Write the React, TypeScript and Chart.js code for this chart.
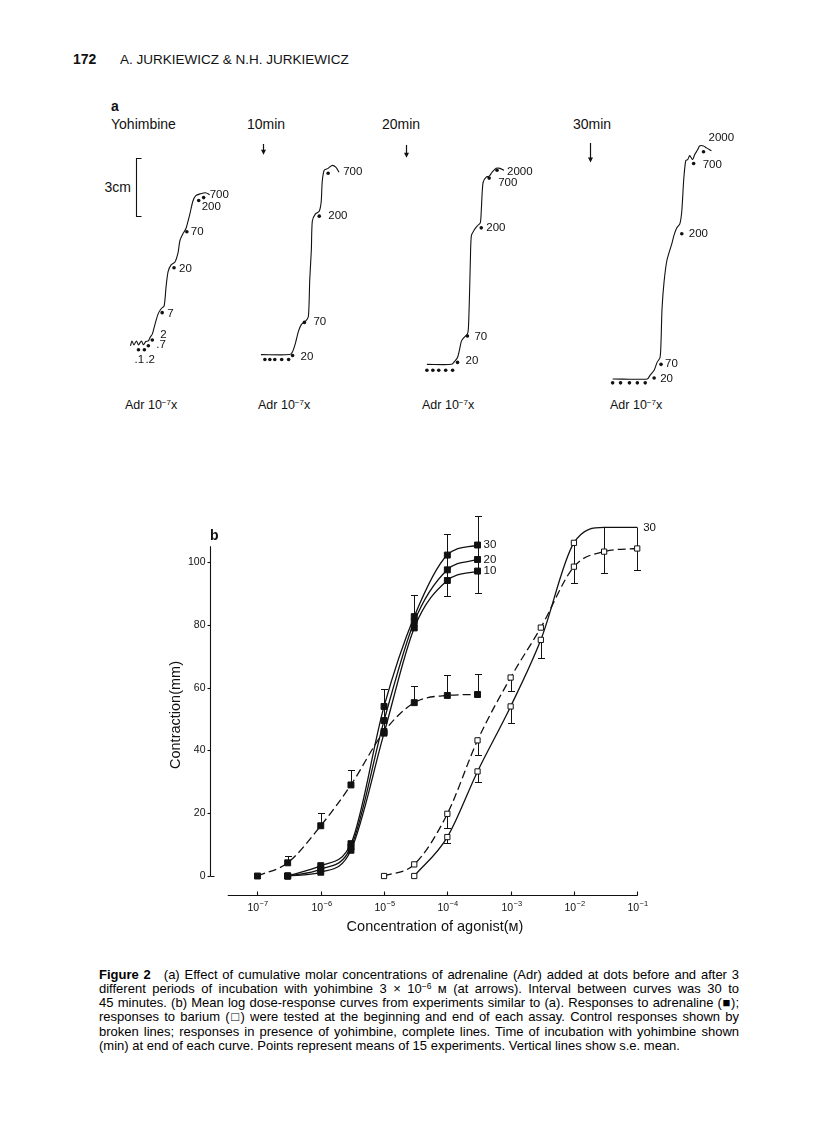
import React, { useEffect, useRef } from "react";
import { Chart, registerables } from "chart.js";

Chart.register(...registerables);

const FONT = "'Liberation Sans', Arial, Helvetica, sans-serif";
const INK = "#111";

// ================= Part b : dose-response curves =================
// concentrations (M) and mean contraction (mm)
const adrConcControl = [1e-7, 3e-7, 1e-6, 3e-6, 1e-5, 3e-5, 1e-4, 3e-4];
const adrControl = [0, 4.2, 16.0, 29.0, 46.0, 55.2, 57.5, 57.8];

const adrConcYoh = [3e-7, 1e-6, 3e-6, 1e-5, 3e-5, 1e-4, 3e-4];
const adrYoh10 = [0, 1.2, 8.2, 45.5, 79.0, 94.1, 97.1];
const adrYoh20 = [0, 2.2, 9.2, 49.5, 81.0, 97.5, 100.8];
const adrYoh30 = [0, 3.3, 10.3, 54.0, 82.6, 102.2, 105.4];

const baConcControl = [1e-5, 3e-5, 1e-4, 3e-4, 1e-3, 3e-3, 1e-2, 3e-2, 1e-1];
const baControl = [0, 3.7, 19.8, 43.2, 63.2, 79.1, 98.5, 103.3, 104.3];

const baConcYoh = [3e-5, 1e-4, 3e-4, 1e-3, 3e-3, 1e-2, 3e-2, 1e-1];
const baYoh30 = [0, 12.4, 33.3, 54.0, 75.2, 106.1, 111.0, 111.0];

// s.e. mean bars: drawn from a mean value to the capped tip
const errConc = [3e-7, 1e-6, 3e-6, 3e-5, 1e-4, 3e-4, 1e-5, 3e-5, 1e-4, 1e-4, 3e-4, 3e-4, 1e-4, 3e-4, 1e-3, 1e-2, 3e-2, 1e-1, 1e-4, 3e-4, 1e-3, 3e-3];
const errFrom = [4.2, 16.0, 29.0, 55.2, 57.5, 57.8, 45.5, 79.0, 94.1, 94.1, 97.1, 97.1, 19.8, 43.2, 63.2, 106.1, 111.0, 111.0, 12.4, 33.3, 54.0, 75.2];
const errTo = [6.4, 20.0, 33.7, 60.5, 64.0, 64.2, 59.5, 89.5, 108.8, 89.3, 114.6, 90.0, 15.3, 38.5, 59.0, 93.2, 96.6, 97.5, 10.6, 29.8, 48.7, 69.3];

const yTicks = [0, 20, 40, 60, 80, 100];
const yTickLabels = ["0", "20", "40", "60", "80", "100"];
const xTickExponents = [-7, -6, -5, -4, -3, -2, -1];
const xTickLabels = ["−7", "−6", "−5", "−4", "−3", "−2", "−1"];

const yAxisTitle = "Contraction(mm)";
const xAxisTitle = "Concentration of agonist(ᴍ)";

// ================= Part a : kymograph traces (mm of chart paper) =================
const traceControl = [
  [18.5, 36], [19.2, 38.5], [20.2, 36.5], [21.5, 38.5], [22.5, 36.5], [24, 38.5], [25, 36.5], [26.2, 38.2],
  [27.5, 38.5], [28.5, 40.5], [29.5, 42], [31, 47.5], [32.5, 52.5], [34, 55], [35.5, 56.5], [36.5, 66.5],
  [37.5, 74], [39, 77.5], [41, 79], [42.5, 83.5], [43.5, 90], [45, 93.5], [46.5, 96], [48.5, 103.5],
  [50, 110], [51.5, 113], [54, 114], [56.5, 114.5], [58.5, 113.5],
];
const trace10 = [
  [84.5, 31.5], [99, 31.5], [100.5, 33], [102, 37.5], [103.5, 43.5], [105, 47], [107, 48.5], [108.5, 51],
  [109.2, 70], [110, 85], [110.5, 100], [112, 103.5], [114, 105], [115, 110], [115.5, 120], [116.5, 126],
  [118.5, 127], [120.5, 128.5], [122.5, 127.5], [124, 125],
];
const trace20 = [
  [168.5, 26.5], [181, 26.5], [182.5, 28], [184, 30], [185, 34], [186, 38.5], [187.5, 40.5], [189, 42],
  [189.5, 45], [190, 60], [190.5, 80], [191, 92.5], [192.5, 95.5], [194, 97.5], [195.5, 99], [196, 105],
  [196.5, 115], [197, 120], [198.5, 122.5], [200, 123], [201.5, 125], [203.5, 127], [205.5, 127], [207.5, 126],
];
const trace30 = [
  [262.5, 19], [280, 19], [281.5, 21], [283.5, 23.5], [285, 27.5], [286.5, 30], [287, 38.5], [287.5, 55],
  [288.5, 68.5], [290, 80], [292.5, 88.5], [293.5, 92.5], [295, 96.5], [296.5, 98.5], [297.5, 105],
  [298.5, 121.5], [299.5, 131], [300.5, 131.5], [301.5, 133.5], [303, 131.5], [304, 134], [305.5, 136.5],
  [306.5, 138.5], [308.5, 138.5], [310, 137.5], [312.5, 136],
];

// dots marking each addition, with dose labels (Adr 10^-7 x)
const dotsControl = [[22.5, 34], [25.5, 34], [27.5, 36], [29.5, 39], [34.5, 53], [40.5, 76], [47, 94.5], [53, 110.5], [55.5, 112]];
const dosesControl = [".1", ".2", ".7", "2", "7", "20", "70", "200", "700"];
const dots10 = [[86.5, 29], [89, 29], [91.5, 29], [95, 29], [98.5, 29], [100.5, 31], [106.5, 48], [114, 102.5], [118.5, 124.5]];
const doses10 = ["", "", "", "", "", "20", "70", "200", "700"];
const dots20 = [[168.5, 23.5], [171.5, 23.5], [174.5, 23.5], [178, 23.5], [181.5, 23.5], [184, 27.5], [189, 41], [196, 96.5], [200, 122], [204, 126]];
const doses20 = ["", "", "", "", "", "20", "70", "200", "700", "2000"];
const dots30 = [[262.5, 17], [266.5, 17], [271, 17], [275, 17], [279, 17], [283.5, 19.5], [287, 26.5], [297.5, 93.5], [303.5, 129.5], [308.5, 135.5]];
const doses30 = ["", "", "", "", "", "20", "70", "200", "700", "2000"];

// label placement (px offsets from the dot) – style only
const offControl = [[-4, 10], [1, 10], [8, -1], [8, -5], [5, 1], [5, 1], [4, 0], [3, 6], [6, -3]];
const off10 = [[0, 0], [0, 0], [0, 0], [0, 0], [0, 0], [8, 1], [9, -1], [9, 0], [15, -1]];
const off20 = [[0, 0], [0, 0], [0, 0], [0, 0], [0, 0], [8, -2], [7, 1], [5, 0], [9, 5], [10, 2]];
const off30 = [[0, 0], [0, 0], [0, 0], [0, 0], [0, 0], [6, 1], [4, 0], [7, 0], [9, 1], [5, -14]];

// yohimbine addition arrows and the 3 cm calibration bar (mm)
const arrowX = [85.5, 158, 251];
const arrowTop = [139.5, 139, 140];
const arrowBottom = [134, 132.5, 130];
const scaleBarX = 21.5;
const scaleBarFrom = 102.5;
const scaleBarTo = 132.5;

const toXY = (arr: number[][]) => arr.map(([x, y]) => ({ x, y }));
const logPts = (conc: number[], vals: number[]) => conc.map((c, i) => ({ x: Math.log10(c), y: vals[i] }));

function buildChartB(): any {
  const dashed = [8, 4];
  const filled = {
    pointStyle: "rect", pointRadius: 4.2, pointBackgroundColor: INK, pointBorderColor: INK,
    pointBorderWidth: 1, pointHoverRadius: 4.2,
  };
  const open = {
    pointStyle: "rect", pointRadius: 3.7, pointBackgroundColor: "#fff", pointBorderColor: INK,
    pointBorderWidth: 1, pointHoverRadius: 3.7,
  };
  const line = { borderColor: INK, borderWidth: 1.3, cubicInterpolationMode: "monotone", fill: false, clip: false };
  const datasets: any[] = [
    { label: "Adr control", data: logPts(adrConcControl, adrControl), ...line, ...filled, borderDash: dashed },
    { label: "Adr 10 min", endLabel: "10", data: logPts(adrConcYoh, adrYoh10), ...line, ...filled },
    { label: "Adr 20 min", endLabel: "20", data: logPts(adrConcYoh, adrYoh20), ...line, ...filled },
    { label: "Adr 30 min", endLabel: "30", data: logPts(adrConcYoh, adrYoh30), ...line, ...filled },
    { label: "Ba control", data: logPts(baConcControl, baControl), ...line, ...open, borderDash: dashed },
    { label: "Ba 30 min", endLabel: "30", data: logPts(baConcYoh, baYoh30), ...line, ...open },
  ];

  const plugin = {
    id: "figB",
    beforeDatasetsDraw(chart: any) {
      const { ctx } = chart;
      const xs = chart.scales.x, ys = chart.scales.y;
      ctx.save();
      ctx.strokeStyle = INK;
      ctx.lineWidth = 1;
      for (let i = 0; i < errConc.length; i++) {
        const px = Math.round(xs.getPixelForValue(Math.log10(errConc[i]))) + 0.5;
        const p1 = ys.getPixelForValue(errFrom[i]);
        const p2 = Math.round(ys.getPixelForValue(errTo[i])) + 0.5;
        ctx.beginPath();
        ctx.moveTo(px, p1);
        ctx.lineTo(px, p2);
        ctx.moveTo(px - 3.5, p2);
        ctx.lineTo(px + 3.5, p2);
        ctx.stroke();
      }
      ctx.restore();
    },
    afterDatasetsDraw(chart: any) {
      const { ctx } = chart;
      ctx.save();
      ctx.fillStyle = INK;
      ctx.font = `11.5px ${FONT}`;
      ctx.textBaseline = "middle";
      ctx.textAlign = "left";
      chart.data.datasets.forEach((ds: any, di: number) => {
        if (!ds.endLabel) return;
        const meta = chart.getDatasetMeta(di);
        const last = meta.data[meta.data.length - 1];
        ctx.fillText(ds.endLabel, last.x + 6, last.y);
      });
      ctx.restore();
    },
    afterDraw(chart: any) {
      const { ctx } = chart;
      const xs = chart.scales.x, ys = chart.scales.y;
      ctx.save();
      ctx.strokeStyle = INK;
      ctx.fillStyle = INK;
      ctx.lineWidth = 1.1;
      // y axis
      const ax = Math.round(xs.getPixelForValue(-7.75)) + 0.5;
      const y0 = ys.getPixelForValue(0);
      ctx.beginPath();
      ctx.moveTo(ax, y0);
      ctx.lineTo(ax, ys.getPixelForValue(105));
      ctx.moveTo(ax, Math.round(y0) + 0.5);
      ctx.lineTo(ax + 4, Math.round(y0) + 0.5);
      ctx.stroke();
      ctx.font = `10.5px ${FONT}`;
      ctx.textAlign = "right";
      ctx.textBaseline = "middle";
      yTicks.forEach((v, i) => {
        const py = Math.round(ys.getPixelForValue(v)) + 0.5;
        ctx.beginPath();
        ctx.moveTo(ax - 3, py);
        ctx.lineTo(ax, py);
        ctx.stroke();
        ctx.fillText(yTickLabels[i], ax - 5, py);
      });
      // x axis (offset below the data)
      const xAxY = Math.round(ys.getPixelForValue(-6)) + 0.5;
      ctx.beginPath();
      ctx.moveTo(xs.getPixelForValue(-7.47), xAxY);
      ctx.lineTo(xs.getPixelForValue(-1) + 0.5, xAxY);
      ctx.stroke();
      xTickExponents.forEach((e, i) => {
        const px = Math.round(xs.getPixelForValue(e)) + 0.5;
        ctx.beginPath();
        ctx.moveTo(px, xAxY);
        ctx.lineTo(px, xAxY - 4);
        ctx.stroke();
        ctx.font = `10.5px ${FONT}`;
        const wBase = ctx.measureText("10").width;
        ctx.font = `7.5px ${FONT}`;
        const wExp = ctx.measureText(xTickLabels[i]).width;
        const left = px - (wBase + wExp) / 2;
        ctx.textAlign = "left";
        ctx.font = `10.5px ${FONT}`;
        ctx.fillText("10", left, xAxY + 13);
        ctx.font = `7.5px ${FONT}`;
        ctx.fillText(xTickLabels[i], left + wBase + 0.5, xAxY + 8.5);
      });
      // titles
      ctx.font = `14.5px ${FONT}`;
      ctx.textAlign = "center";
      ctx.textBaseline = "middle";
      ctx.fillText(xAxisTitle, 295, 427);
      ctx.save();
      ctx.translate(36, 215);
      ctx.rotate(-Math.PI / 2);
      ctx.fillText(yAxisTitle, 0, 0);
      ctx.restore();
      ctx.font = `bold 14px ${FONT}`;
      ctx.textAlign = "left";
      ctx.fillText("b", 70, 36);
      ctx.restore();
    },
  };

  return {
    type: "line",
    data: { datasets },
    options: {
      animation: false,
      responsive: false,
      devicePixelRatio: 1,
      layout: { padding: { left: 70, right: 40, top: 40, bottom: 40 } },
      plugins: { legend: { display: false }, tooltip: { enabled: false } },
      events: [],
      scales: {
        x: { type: "linear", min: -7.75, max: -0.64, display: false },
        y: { type: "linear", min: -7.64, max: 107, display: false },
      },
    },
    plugins: [plugin],
  };
}

function buildChartA(): any {
  const traceStyle = { borderColor: INK, borderWidth: 1.1, pointRadius: 0, tension: 0.25, fill: false, clip: false };
  const dotStyle = { showLine: false, pointRadius: 1.8, pointBackgroundColor: INK, pointBorderColor: INK, pointBorderWidth: 0, clip: false };
  const groups = [
    { trace: traceControl, dots: dotsControl, doses: dosesControl, off: offControl },
    { trace: trace10, dots: dots10, doses: doses10, off: off10 },
    { trace: trace20, dots: dots20, doses: doses20, off: off20 },
    { trace: trace30, dots: dots30, doses: doses30, off: off30 },
  ];
  const datasets: any[] = [];
  groups.forEach((g, gi) => {
    datasets.push({ label: `trace ${gi}`, data: toXY(g.trace), ...traceStyle });
    datasets.push({ label: `dots ${gi}`, data: toXY(g.dots), ...dotStyle, doses: g.doses, off: g.off });
  });

  const plugin = {
    id: "figA",
    afterDatasetsDraw(chart: any) {
      const { ctx } = chart;
      const xs = chart.scales.x, ys = chart.scales.y;
      ctx.save();
      ctx.fillStyle = INK;
      ctx.strokeStyle = INK;
      ctx.font = `11.5px ${FONT}`;
      ctx.textBaseline = "middle";
      ctx.textAlign = "left";
      chart.data.datasets.forEach((ds: any, di: number) => {
        if (!ds.doses) return;
        const meta = chart.getDatasetMeta(di);
        ds.doses.forEach((t: string, i: number) => {
          if (!t) return;
          const el = meta.data[i];
          ctx.fillText(t, el.x + ds.off[i][0], el.y + ds.off[i][1]);
        });
      });
      // arrows
      ctx.lineWidth = 1.2;
      arrowX.forEach((x, i) => {
        const px = Math.round(xs.getPixelForValue(x)) + 0.5;
        const pt = ys.getPixelForValue(arrowTop[i]);
        const pb = ys.getPixelForValue(arrowBottom[i]);
        ctx.beginPath();
        ctx.moveTo(px, pt);
        ctx.lineTo(px, pb - 4);
        ctx.stroke();
        ctx.beginPath();
        ctx.moveTo(px - 2.5, pb - 5);
        ctx.lineTo(px + 2.5, pb - 5);
        ctx.lineTo(px, pb);
        ctx.closePath();
        ctx.fill();
      });
      // 3 cm calibration bar
      const bx = Math.round(xs.getPixelForValue(scaleBarX)) + 0.5;
      const b1 = Math.round(ys.getPixelForValue(scaleBarFrom)) + 0.5;
      const b2 = Math.round(ys.getPixelForValue(scaleBarTo)) + 0.5;
      ctx.lineWidth = 1.1;
      ctx.beginPath();
      ctx.moveTo(bx + 5, b2);
      ctx.lineTo(bx, b2);
      ctx.lineTo(bx, b1);
      ctx.lineTo(bx + 5, b1);
      ctx.stroke();
      ctx.restore();
    },
  };

  return {
    type: "line",
    data: { datasets },
    options: {
      animation: false,
      responsive: false,
      devicePixelRatio: 1,
      layout: { padding: 0 },
      plugins: { legend: { display: false }, tooltip: { enabled: false } },
      events: [],
      scales: {
        x: { type: "linear", min: 0, max: 330, display: false },
        y: { type: "linear", min: 0, max: 160, display: false },
      },
    },
    plugins: [plugin],
  };
}

function ChartCanvas({ build, left, top, width, height }: any) {
  const ref = useRef<HTMLCanvasElement>(null);
  useEffect(() => {
    const chart = new Chart(ref.current as HTMLCanvasElement, build());
    return () => chart.destroy();
  }, []);
  return (
    <canvas
      ref={ref}
      width={width}
      height={height}
      style={{ position: "absolute", left, top, width, height, display: "block" }}
    />
  );
}

function Txt({ x, y, size, bold, right, children, style }: any) {
  const s: any = {
    position: "absolute",
    top: y - size * 0.55,
    fontFamily: FONT,
    fontSize: size,
    lineHeight: `${size}px`,
    fontWeight: bold ? "bold" : "normal",
    color: INK,
    whiteSpace: "nowrap",
    ...style,
  };
  if (right) s.right = 816 - x;
  else s.left = x;
  return <div style={s}>{children}</div>;
}

const Sup = ({ children, size }: any) => (
  <span style={{ fontSize: size, verticalAlign: "0.45em", lineHeight: 0 }}>{children}</span>
);

const captionLines = [
  null,
  <>different periods of incubation with yohimbine 3 × 10<Sup size={8.5}>−6</Sup> ᴍ (at arrows). Interval between curves was 30 to</>,
  <>45 minutes. (b) Mean log dose-response curves from experiments similar to (a). Responses to adrenaline (■);</>,
  <>responses to barium (□) were tested at the beginning and end of each assay. Control responses shown by</>,
  <>broken lines; responses in presence of yohimbine, complete lines. Time of incubation with yohimbine shown</>,
];

export default function App() {
  const capTop = [975, 989.3, 1003.3, 1017.3, 1031.7, 1045.7];
  const capSize = 13;
  const capStyle = (i: number, last: boolean): any => ({
    position: "absolute",
    left: 99,
    width: 640,
    top: capTop[i] - 7,
    fontFamily: FONT,
    fontSize: capSize,
    lineHeight: "14px",
    color: "#000",
    textAlign: last ? "left" : "justify",
    textAlignLast: last ? "left" : "justify",
    whiteSpace: "nowrap",
  });
  return (
    <div style={{ position: "absolute", left: 0, top: 0, width: 816, height: 1136, background: "#fff", overflow: "hidden" }}>
      {/* running head */}
      <Txt x={73} y={60} size={14} bold>172</Txt>
      <Txt x={120} y={60} size={13.5}>A. JURKIEWICZ &amp; N.H. JURKIEWICZ</Txt>

      {/* part a */}
      <Txt x={111} y={107} size={14} bold>a</Txt>
      <Txt x={111} y={125} size={14}>Yohimbine</Txt>
      <Txt x={247} y={125} size={14}>10min</Txt>
      <Txt x={382} y={125} size={14}>20min</Txt>
      <Txt x={573} y={125} size={14}>30min</Txt>
      <Txt x={131} y={188} size={14} right>3cm</Txt>
      {[125, 258, 422, 610].map((x) => (
        <Txt key={x} x={x} y={406} size={12.5}>
          Adr 10<Sup size={8}>−7</Sup>x
        </Txt>
      ))}
      <ChartCanvas build={buildChartA} left={90} top={100} width={660} height={320} />

      {/* part b */}
      <ChartCanvas build={buildChartB} left={140} top={500} width={560} height={440} />

      {/* caption */}
      <div style={capStyle(0, false)}>
        <b>Figure 2</b>{"\u2002\u2002"}(a) Effect of cumulative molar concentrations of adrenaline (Adr) added at dots before and after 3
      </div>
      {captionLines.slice(1).map((c, i) => (
        <div key={i} style={capStyle(i + 1, false)}>{c}</div>
      ))}
      <div style={capStyle(5, true)}>
        (min) at end of each curve. Points represent means of 15 experiments. Vertical lines show s.e. mean.
      </div>
    </div>
  );
}
